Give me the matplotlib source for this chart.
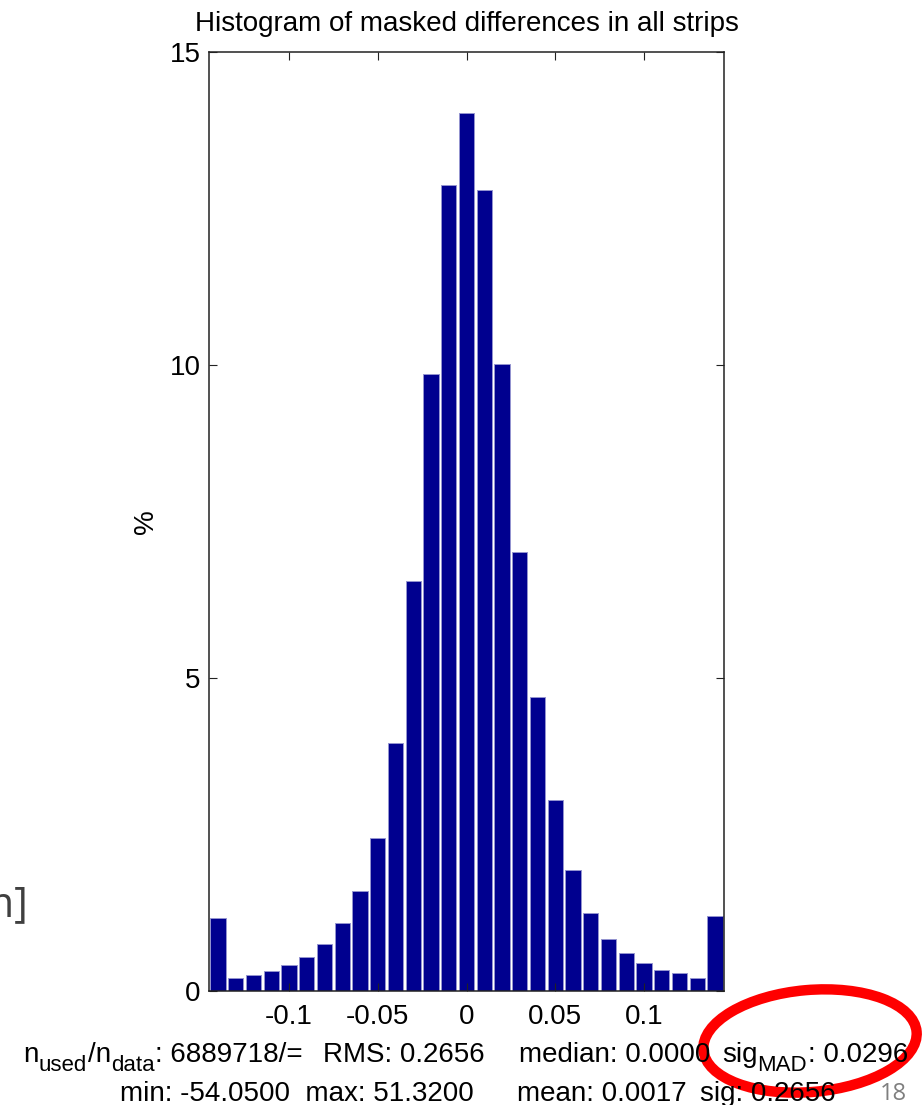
import matplotlib
matplotlib.use("Agg")
import matplotlib.pyplot as plt
from matplotlib.patches import Ellipse
from matplotlib.transforms import IdentityTransform

# Histogram bins (centres, width 0.01) and share of samples in each bin [%]
bin_centers = [-0.14, -0.13, -0.12, -0.11, -0.10, -0.09, -0.08, -0.07, -0.06, -0.05,
               -0.04, -0.03, -0.02, -0.01, 0.00, 0.01, 0.02, 0.03, 0.04, 0.05,
               0.06, 0.07, 0.08, 0.09, 0.10, 0.11, 0.12, 0.13, 0.14]
percent = [1.16, 0.21, 0.26, 0.32, 0.42, 0.54, 0.75, 1.08, 1.59, 2.44,
           3.96, 6.55, 9.85, 12.87, 14.02, 12.79, 10.02, 7.01, 4.69, 3.05,
           1.93, 1.24, 0.83, 0.61, 0.44, 0.34, 0.28, 0.21, 1.20]
bin_width = 0.01

x_ticks = [-0.1, -0.05, 0, 0.05, 0.1]
x_tick_labels = ["-0.1", "-0.05", "0", "0.05", "0.1"]
y_ticks = [0, 5, 10, 15]
y_tick_labels = ["0", "5", "10", "15"]

title = "Histogram of masked differences in all strips"
# statistics; each entry is a list of (text, is_subscript) runs
n_ratio_runs = [("n", False), ("used", True), ("/n", False), ("data", True),
                (": 6889718/=", False)]
rms_text = "RMS: 0.2656"
median_text = "median: 0.0000"
sig_mad_runs = [("sig", False), ("MAD", True), (": 0.0296", False)]
min_max_text = "min: -54.0500  max: 51.3200"
mean_text = "mean: 0.0017"
sig_text = "sig: 0.2656"
slide_label = "[m]"
page_number = "18"

W, H = 924, 1105
plt.rcParams["font.family"] = ["Liberation Sans", "DejaVu Sans"]

fig = plt.figure(figsize=(W / 100, H / 100), dpi=100)
renderer = fig.canvas.get_renderer()
ax_l, ax_r, ax_t, ax_b = 209, 724, 52, 991
ax = fig.add_axes([ax_l / W, 1 - ax_b / H, (ax_r - ax_l) / W, (ax_b - ax_t) / H])

ax.bar(bin_centers, percent, width=bin_width * 0.86, color="#00008F",
       edgecolor="#9494d0", linewidth=0.7, align="center")

ax.set_xlim(bin_centers[0] - bin_width / 2, bin_centers[-1] + bin_width / 2)
ax.set_ylim(0, 15)
ax.set_xticks(x_ticks)
ax.set_xticklabels(x_tick_labels)
ax.set_yticks(y_ticks)
ax.set_yticklabels(y_tick_labels)
ax.tick_params(direction="in", top=True, right=True, length=6, width=0.8,
               labelsize=20, color="#222222")
ax.tick_params(axis="x", pad=9)
ax.tick_params(axis="y", pad=6)
for sp in ax.spines.values():
    sp.set_linewidth(1.1)
    sp.set_color("#222222")

ax.set_title(title, fontsize=20, pad=15)
ax.set_ylabel("%", fontsize=20, va="baseline")
ax.yaxis.set_label_coords((153 - ax_l) / (ax_r - ax_l), 0.5)

MAIN_SIZE, SUB_SIZE, SUB_DROP = 20, 16, 9


def px(x, y):
    return x / W, 1 - y / H


def run_text(x, y, runs):
    """Write text runs left to right, subscripts smaller and lowered."""
    for s, sub in runs:
        size = SUB_SIZE if sub else MAIN_SIZE
        yy = y + (SUB_DROP if sub else 0)
        t = fig.text(*px(x, yy), s, fontsize=size, ha="left", va="baseline")
        x += t.get_window_extent(renderer).width + (1 if sub else 0)


# statistics lines under the plot
row1_y, row2_y = 1062, 1101
run_text(23, row1_y, n_ratio_runs)
fig.text(*px(323, row1_y), rms_text, fontsize=MAIN_SIZE, ha="left", va="baseline")
fig.text(*px(519, row1_y), median_text, fontsize=MAIN_SIZE, ha="left", va="baseline")
run_text(722, row1_y, sig_mad_runs)

fig.text(*px(474, row2_y), min_max_text, fontsize=MAIN_SIZE, ha="right", va="baseline")
fig.text(*px(517, row2_y), mean_text, fontsize=MAIN_SIZE, ha="left", va="baseline")
fig.text(*px(700, row2_y), sig_text, fontsize=MAIN_SIZE, ha="left", va="baseline")

# slide decorations
fig.text(*px(28, 905), slide_label, fontsize=30, ha="right", va="center",
         color="#404040", family="Open Sans")
fig.text(*px(907, 1100), page_number, fontsize=17, ha="right", va="baseline",
         color="#7f7f7f", family="Open Sans")

ring = Ellipse((810, H - 1041), 214, 102, angle=5, fill=False,
               edgecolor="#ff0000", linewidth=7.5, transform=IdentityTransform())
fig.patches.append(ring)

fig.savefig("out.png", dpi=100)
